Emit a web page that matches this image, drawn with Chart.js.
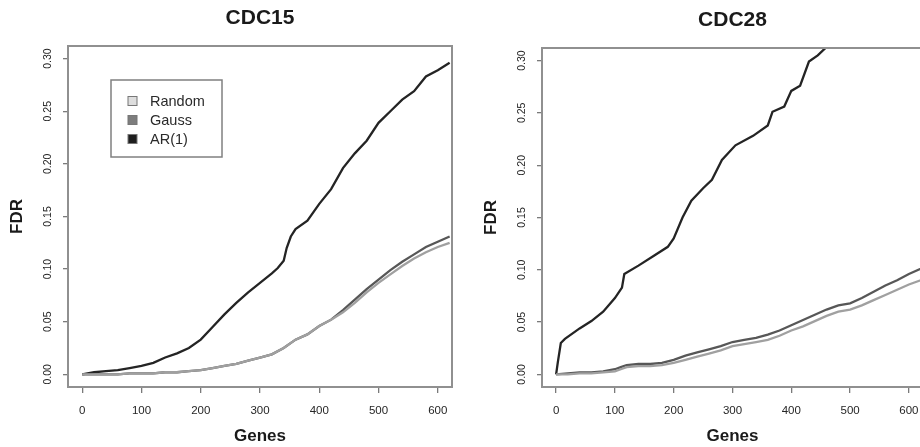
<!DOCTYPE html>
<html>
<head>
<meta charset="utf-8">
<script src="https://cdn.jsdelivr.net/npm/chart.js@4/dist/chart.umd.min.js"></script>
<style>
  html, body { margin: 0; padding: 0; background: #fff; }
  body { width: 920px; height: 447px; overflow: hidden; position: relative; }
  canvas { position: absolute; top: 0; }
  #cdc15 { left: 0; }
  #cdc28 { left: 460px; }
</style>
</head>
<body>
<canvas id="cdc15" width="460" height="447"></canvas>
<canvas id="cdc28" width="471" height="447"></canvas>
<script>
// Achsen-Ticks (beide Panels gleich)
const xTicks = [0, 100, 200, 300, 400, 500, 600];
const yTicks = [0, 0.05, 0.10, 0.15, 0.20, 0.25, 0.30];
const seriesLabels = ["Random", "Gauss", "AR(1)"];

const cdc15Genes = [0, 20, 40, 60, 80, 100, 120, 140, 160, 180, 200, 220, 240, 260, 280, 300, 320, 340, 360, 380, 400, 420, 440, 460, 480, 500, 520, 540, 560, 580, 600, 620];
const cdc15Random = [0, 0, 0, 0, 0.001, 0.001, 0.001, 0.002, 0.002, 0.003, 0.004, 0.006, 0.008, 0.010, 0.013, 0.016, 0.019, 0.025, 0.033, 0.038, 0.046, 0.052, 0.059, 0.068, 0.078, 0.087, 0.095, 0.103, 0.110, 0.116, 0.121, 0.125];
const cdc15Gauss = [0, 0, 0, 0, 0.001, 0.001, 0.001, 0.002, 0.002, 0.003, 0.004, 0.006, 0.008, 0.010, 0.013, 0.016, 0.019, 0.025, 0.033, 0.038, 0.046, 0.052, 0.061, 0.071, 0.081, 0.090, 0.099, 0.107, 0.114, 0.121, 0.126, 0.131];
const cdc15ArGenes = [0, 20, 40, 60, 80, 100, 120, 140, 160, 180, 200, 220, 240, 260, 280, 300, 320, 330, 340, 345, 352, 360, 380, 400, 420, 440, 460, 480, 500, 520, 540, 560, 580, 600, 620];
const cdc15Ar = [0, 0.002, 0.003, 0.004, 0.006, 0.008, 0.011, 0.016, 0.020, 0.025, 0.033, 0.045, 0.057, 0.068, 0.078, 0.087, 0.096, 0.101, 0.108, 0.120, 0.131, 0.138, 0.146, 0.162, 0.176, 0.196, 0.210, 0.222, 0.239, 0.250, 0.261, 0.269, 0.283, 0.289, 0.296];

const cdc28Genes = [0, 20, 40, 60, 80, 100, 110, 120, 140, 160, 180, 200, 220, 240, 260, 280, 300, 320, 340, 360, 380, 400, 420, 440, 460, 480, 500, 520, 540, 560, 580, 600, 620, 630];
const cdc28Random = [0, 0, 0.001, 0.001, 0.002, 0.003, 0.005, 0.007, 0.008, 0.008, 0.009, 0.011, 0.014, 0.017, 0.020, 0.023, 0.027, 0.029, 0.031, 0.033, 0.037, 0.042, 0.046, 0.051, 0.056, 0.060, 0.062, 0.066, 0.071, 0.076, 0.081, 0.086, 0.090, 0.093];
const cdc28Gauss = [0, 0.001, 0.002, 0.002, 0.003, 0.005, 0.007, 0.009, 0.010, 0.010, 0.011, 0.014, 0.018, 0.021, 0.024, 0.027, 0.031, 0.033, 0.035, 0.038, 0.042, 0.047, 0.052, 0.057, 0.062, 0.066, 0.068, 0.073, 0.079, 0.085, 0.090, 0.096, 0.101, 0.104];
const cdc28ArGenes = [0, 3, 8, 15, 40, 60, 80, 100, 112, 116, 140, 165, 190, 200, 215, 230, 250, 265, 282, 305, 335, 360, 368, 388, 400, 415, 430, 445, 460, 480];
const cdc28Ar = [0, 0.012, 0.030, 0.034, 0.044, 0.051, 0.060, 0.073, 0.083, 0.096, 0.104, 0.113, 0.122, 0.130, 0.150, 0.166, 0.178, 0.186, 0.205, 0.219, 0.228, 0.238, 0.251, 0.256, 0.271, 0.276, 0.299, 0.305, 0.313, 0.325];

const FONT = '"Liberation Sans", Arial, Helvetica, sans-serif';
const lineColors = ["#a0a0a0", "#575757", "#242424"];
const boxColors = ["#dedede", "#7d7d7d", "#1e1e1e"];

const toPoints = (xs, ys) => xs.map((x, i) => ({ x: x, y: ys[i] }));

// Rahmen, Titel und Legende im R-Stil
const rFrame = {
    id: "rFrame",
    afterDatasetsDraw(chart, args, opts) {
        const { ctx, chartArea: a } = chart;
        ctx.save();
        ctx.strokeStyle = "#909090";
        ctx.lineWidth = 2;
        ctx.strokeRect(a.left, a.top, a.right - a.left, a.bottom - a.top);

        ctx.fillStyle = "#1a1a1a";
        ctx.font = "bold 21px " + FONT;
        ctx.textAlign = "center";
        ctx.textBaseline = "middle";
        ctx.fillText(opts.title, (a.left + a.right) / 2, opts.titleY);

        if (opts.legend) {
            const bx = a.left + 43, by = a.top + 34;
            ctx.strokeStyle = "#808080";
            ctx.lineWidth = 1.5;
            ctx.strokeRect(bx, by, 111, 77);
            ctx.font = "14.5px " + FONT;
            ctx.textAlign = "left";
            chart.data.datasets.forEach((ds, i) => {
                const cy = by + 21 + i * 19;
                ctx.fillStyle = ds.backgroundColor;
                ctx.fillRect(bx + 17, cy - 4.5, 9, 9);
                ctx.strokeStyle = "#777";
                ctx.lineWidth = 1;
                ctx.strokeRect(bx + 17, cy - 4.5, 9, 9);
                ctx.fillStyle = "#2a2a2a";
                ctx.fillText(ds.label, bx + 39, cy + 1);
            });
        }
        ctx.restore();
    }
};

const makeChart = (id, title, padLeft, padTop, titleY, legend, series) => {
    return new Chart(document.getElementById(id), {
        type: "line",
        data: {
            datasets: series.map((s, i) => ({
                label: seriesLabels[i],
                data: toPoints(s[0], s[1]),
                borderColor: lineColors[i],
                backgroundColor: boxColors[i],
                borderWidth: 2.3,
                pointRadius: 0,
                tension: 0,
                fill: false,
            })),
        },
        options: {
            responsive: false,
            animation: false,
            events: [],
            layout: { padding: { left: padLeft, top: padTop, right: 8, bottom: 0 } },
            plugins: {
                legend: { display: false },
                tooltip: { enabled: false },
                title: { display: false },
                rFrame: { title: title, titleY: titleY, legend: legend },
            },
            scales: {
                x: {
                    type: "linear",
                    min: -24,
                    max: 624,
                    afterBuildTicks: (scale) => { scale.ticks = xTicks.map(v => ({ value: v })); },
                    afterFit: (scale) => { scale.height = 60; },
                    border: { display: false },
                    grid: { drawOnChartArea: false, tickLength: 6, color: "#7a7a7a", lineWidth: 1.3 },
                    ticks: { color: "#262626", padding: 11, font: { family: FONT, size: 11.5 }, maxRotation: 0, callback: (v) => String(v) },
                    title: { display: true, text: "Genes", color: "#1a1a1a", padding: { top: 0, bottom: 0 }, font: { family: FONT, size: 17, weight: "bold" } },
                },
                y: {
                    min: -0.012,
                    max: 0.312,
                    afterBuildTicks: (scale) => { scale.ticks = yTicks.map(v => ({ value: v })); },
                    afterFit: (scale) => { scale.width = 68; },
                    border: { display: false },
                    grid: { drawOnChartArea: false, tickLength: 5, color: "#7a7a7a", lineWidth: 1.3 },
                    ticks: { color: "#262626", minRotation: 90, maxRotation: 90, crossAlign: "center", padding: 5, font: { family: FONT, size: 10.5 }, callback: (v) => v.toFixed(2) },
                    title: { display: true, text: "FDR", color: "#1a1a1a", padding: { top: 7, bottom: 0 }, font: { family: FONT, size: 17, weight: "bold" } },
                },
            },
        },
        plugins: [rFrame],
    });
};

makeChart("cdc15", "CDC15", 0, 46, 18, true, [
    [cdc15Genes, cdc15Random],
    [cdc15Genes, cdc15Gauss],
    [cdc15ArGenes, cdc15Ar],
]);

makeChart("cdc28", "CDC28", 14, 48, 20, false, [
    [cdc28Genes, cdc28Random],
    [cdc28Genes, cdc28Gauss],
    [cdc28ArGenes, cdc28Ar],
]);
</script>
</body>
</html>
